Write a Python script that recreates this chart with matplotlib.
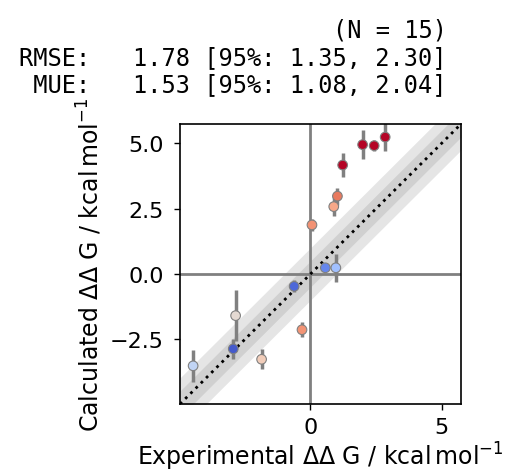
import matplotlib
matplotlib.use("Agg")
import matplotlib.pyplot as plt
from matplotlib import cm
import numpy as np

# experimental vs calculated relative free energies (kcal/mol)
exp_ddg = np.array([-4.47, -2.94, -2.85, -1.86, -0.32, -0.62, 0.06, 0.57,
                    0.97, 0.89, 1.03, 1.23, 1.99, 2.43, 2.85])
calc_ddg = np.array([-3.51, -2.86, -1.59, -3.26, -2.13, -0.47, 1.88, 0.24,
                     0.24, 2.58, 2.98, 4.17, 4.95, 4.91, 5.24])
calc_err = np.array([0.60, 0.39, 0.97, 0.39, 0.29, 0.23, 0.22, 0.08,
                     0.53, 0.34, 0.32, 0.46, 0.55, 0.21, 0.53])

stats_text = ("(N = 15) \n"
              "RMSE:   1.78 [95%: 1.35, 2.30] \n"
              " MUE:   1.53 [95%: 1.08, 2.04] ")

fig = plt.figure(figsize=(5.09, 4.77), dpi=100)
ax = fig.add_axes([180 / 509, 1 - 405 / 477, 281 / 509, 280 / 477])

ax_min = min(exp_ddg.min(), calc_ddg.min()) - 0.5
ax_max = max(exp_ddg.max(), calc_ddg.max()) + 0.5

# zero lines
ax.axvline(0, color="gray", linewidth=2, zorder=0)
ax.axhline(0, color="gray", linewidth=2, zorder=0)

# 0.5 and 1 kcal/mol bands
small_dist = 0.5
ax.fill_between([ax_min, ax_max], [ax_min - small_dist, ax_max - small_dist],
                [ax_min + small_dist, ax_max + small_dist], color="grey", alpha=0.2, linewidth=0)
ax.fill_between([ax_min, ax_max], [ax_min - 2 * small_dist, ax_max - 2 * small_dist],
                [ax_min + 2 * small_dist, ax_max + 2 * small_dist], color="grey", alpha=0.2, linewidth=0)

ax.plot([ax_min, ax_max], [ax_min, ax_max], color="black", linestyle=":", linewidth=2)

ax.errorbar(exp_ddg, calc_ddg, yerr=calc_err, color="gray", linewidth=0,
            elinewidth=2.5, zorder=1)
colors = cm.coolwarm(np.clip(np.abs(exp_ddg - calc_ddg) / 2.372, 0, 1))
ax.scatter(exp_ddg, calc_ddg, color=colors, s=48, edgecolors="grey",
           linewidths=0.8, zorder=2)

ax.set_xlim(ax_min, ax_max)
ax.set_ylim(ax_min, ax_max)
ax.set_xticks([0, 5])
ax.set_yticks([-2.5, 0, 2.5, 5.0])
ax.set_yticklabels(["\u22122.5", "0.0", "2.5", "5.0"])
ax.tick_params(labelsize=16, width=1, length=4.5)
ax.tick_params(axis="y", pad=7)
ax.tick_params(axis="x", pad=5)
for sp in ax.spines.values():
    sp.set_linewidth(1.2)

ax.set_xlabel(r"Experimental $\Delta\Delta$ G / $\mathrm{kcal\,mol^{-1}}$", fontsize=17,
              labelpad=2)
ax.set_ylabel(r"Calculated $\Delta\Delta$ G / $\mathrm{kcal\,mol^{-1}}$", fontsize=17)
ax.set_title(stats_text, loc="right", family="monospace", fontsize=17,
             linespacing=1.15, pad=24)

fig.savefig("out.png", dpi=100)
